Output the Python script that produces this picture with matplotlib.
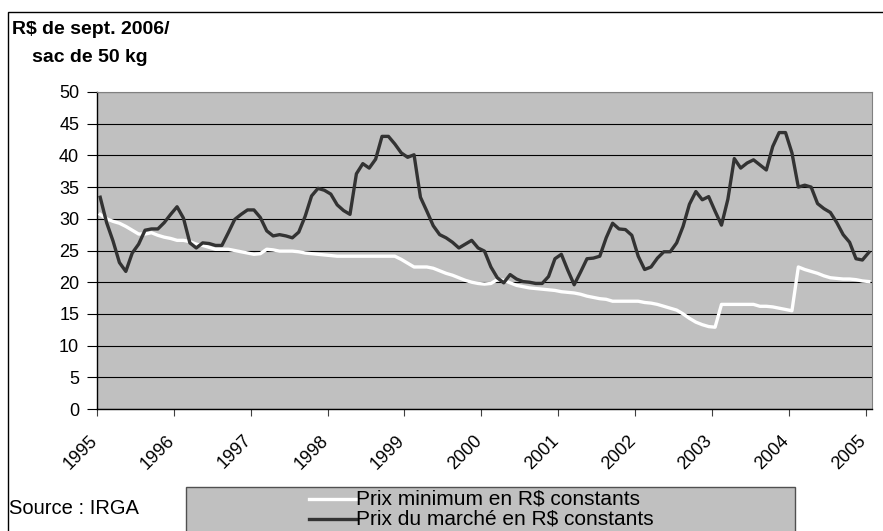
import matplotlib
matplotlib.use("Agg")
import matplotlib.pyplot as plt
from matplotlib.patches import Rectangle
from matplotlib.lines import Line2D
from matplotlib.transforms import ScaledTranslation

plt.rcParams['font.family'] = ['Liberation Sans', 'DejaVu Sans']

years = ['1995', '1996', '1997', '1998', '1999', '2000',
         '2001', '2002', '2003', '2004', '2005']

# Monthly values, Jan 1995 .. Jan 2005
prix_marche = [
    33.4, 29.4, 26.5, 23.1, 21.7, 24.6, 26.0, 28.2, 28.4, 28.4, 29.4, 30.7,   # 1995
    31.9, 30.1, 26.2, 25.4, 26.2, 26.1, 25.8, 25.8, 27.8, 29.9, 30.7, 31.4,   # 1996
    31.4, 30.2, 28.1, 27.3, 27.5, 27.3, 27.0, 27.9, 30.4, 33.6, 34.8, 34.5,   # 1997
    33.9, 32.2, 31.3, 30.7, 37.1, 38.7, 38.0, 39.4, 43.0, 43.0, 41.8, 40.4,   # 1998
    39.7, 40.1, 33.4, 31.2, 28.9, 27.5, 27.0, 26.3, 25.4, 26.0, 26.6, 25.4,   # 1999
    24.9, 22.4, 20.7, 19.9, 21.2, 20.5, 20.1, 20.0, 19.8, 19.8, 20.9, 23.7,   # 2000
    24.4, 21.9, 19.6, 21.6, 23.7, 23.8, 24.1, 27.0, 29.3, 28.4, 28.3, 27.4,   # 2001
    24.1, 22.0, 22.4, 23.8, 24.8, 24.8, 26.2, 28.8, 32.3, 34.3, 33.0, 33.5,   # 2002
    31.2, 29.0, 33.1, 39.5, 38.0, 38.8, 39.3, 38.5, 37.7, 41.4, 43.6, 43.6,   # 2003
    40.4, 35.0, 35.3, 35.0, 32.4, 31.6, 31.0, 29.4, 27.5, 26.3, 23.7, 23.5,   # 2004
    24.7,                                                                     # 2005
]

prix_minimum = [
    30.7, 30.0, 29.6, 29.3, 28.8, 28.2, 27.6, 27.6, 27.8, 27.4, 27.1, 26.9,   # 1995
    26.6, 26.6, 26.4, 26.0, 25.8, 25.5, 25.2, 25.2, 25.2, 25.0, 24.8, 24.6,   # 1996
    24.4, 24.5, 25.2, 25.1, 24.9, 24.9, 24.9, 24.8, 24.6, 24.5, 24.4, 24.3,   # 1997
    24.2, 24.1, 24.1, 24.1, 24.1, 24.1, 24.1, 24.1, 24.1, 24.1, 24.1, 23.6,   # 1998
    23.0, 22.4, 22.4, 22.4, 22.2, 21.8, 21.4, 21.1, 20.7, 20.3, 20.0, 19.8,   # 1999
    19.7, 19.8, 20.4, 20.3, 19.9, 19.5, 19.3, 19.1, 19.0, 18.9, 18.8, 18.7,   # 2000
    18.5, 18.4, 18.3, 18.1, 17.8, 17.6, 17.4, 17.3, 17.0, 17.0, 17.0, 17.0,   # 2001
    17.0, 16.8, 16.7, 16.5, 16.2, 15.9, 15.6, 15.0, 14.3, 13.7, 13.3, 13.0,   # 2002
    12.9, 16.5, 16.5, 16.5, 16.5, 16.5, 16.5, 16.2, 16.2, 16.1, 15.9, 15.7,   # 2003
    15.5, 22.4, 22.0, 21.7, 21.4, 21.0, 20.7, 20.6, 20.5, 20.5, 20.4, 20.2,   # 2004
    20.1,                                                                     # 2005
]

label_min = "Prix minimum en R$ constants"
label_marche = "Prix du marché en R$ constants"

W, H = 883, 531
fig = plt.figure(figsize=(W / 100, H / 100), dpi=100)
fig.patch.set_facecolor('white')

def fx(px):
    return px / W

def fy(py):
    return 1 - py / H

# outer frame
fig.patches.append(Rectangle((fx(8), fy(560)), fx(900), (560 - 12) / H,
                             transform=fig.transFigure, fill=False,
                             edgecolor='black', linewidth=1.0))

ax = fig.add_axes([fx(97), fy(409), fx(872 - 97), (409 - 92) / H])
ax.set_facecolor('#C0C0C0')

n = len(prix_marche)
xs = list(range(n))
ax.plot(xs, prix_minimum, color='white', linewidth=2.4, zorder=3)
ax.plot(xs, prix_marche, color='#333333', linewidth=2.4, zorder=4)

ax.set_xlim(-0.5, n - 0.5)
ax.set_ylim(0, 50)
ax.set_yticks(range(0, 51, 5))
ax.yaxis.grid(True, color='black', linewidth=0.8, zorder=1)
ax.set_axisbelow(True)

ax.set_xticks([-0.5 + 12 * k for k in range(len(years))])
ax.set_xticklabels(years, rotation=45, ha='right', va='top',
                   rotation_mode='anchor')
ax.tick_params(axis='x', length=5, width=0.8, color='#404040', pad=11.5,
               labelsize=13)
ax.tick_params(axis='y', length=7, width=0.8, color='black', pad=5.8,
               labelsize=13)
offset = ScaledTranslation(-8 / 100, 0, fig.dpi_scale_trans)
for lab in ax.get_xticklabels():
    lab.set_transform(lab.get_transform() + offset)

for side in ['top', 'right']:
    ax.spines[side].set_color('#808080')
    ax.spines[side].set_linewidth(0.8)
for side in ['left', 'bottom']:
    ax.spines[side].set_color('black')
    ax.spines[side].set_linewidth(1.0)

# y-axis title
fig.text(fx(12), fy(29), "R$ de sept. 2006/", fontsize=14, fontweight='bold',
         ha='left', va='center')
fig.text(fx(32), fy(57), "sac de 50 kg", fontsize=14, fontweight='bold',
         ha='left', va='center')

# source
fig.text(fx(9), fy(509), "Source : IRGA", fontsize=14.5, ha='left', va='center')

# legend box
fig.patches.append(Rectangle((fx(186), fy(560)), fx(795 - 186), (560 - 487) / H,
                             transform=fig.transFigure, facecolor='#C0C0C0',
                             edgecolor='#505050', linewidth=1.0))
for ypx, col, lab in [(499, 'white', label_min), (519, '#333333', label_marche)]:
    fig.lines.append(Line2D([fx(309), fx(356)], [fy(ypx), fy(ypx)],
                            transform=fig.transFigure, color=col, linewidth=2.4))
    fig.text(fx(356), fy(ypx), lab, fontsize=15, ha='left', va='center')

fig.savefig('out.png', dpi=100)
